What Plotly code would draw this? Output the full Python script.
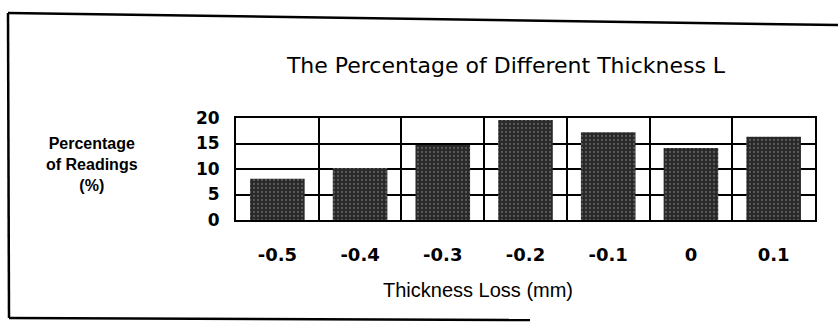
import plotly.graph_objects as go

# Thickness-loss bins (mm) and share of readings in each bin (%)
thickness_loss = ["-0.5", "-0.4", "-0.3", "-0.2", "-0.1", "0", "0.1"]
pct_readings = [8.1, 10.2, 14.7, 19.6, 17.2, 14.1, 16.3]
y_ticks = [0, 5, 10, 15, 20]

W, H = 838, 326
L, R, T, B = 236, 23, 118, 106
SANS = "Liberation Sans, Arial, sans-serif"
WIDE = "DejaVu Sans, Verdana, sans-serif"


def px_x(x):
    """Pixel column -> paper x."""
    return (x - L) / (W - L - R)


def px_y(y):
    """Pixel row -> paper y."""
    return (H - B - y) / (H - T - B)


fig = go.Figure(
    go.Bar(
        x=thickness_loss,
        y=pct_readings,
        marker=dict(
            color="#282828",
            line=dict(width=0),
            pattern=dict(shape=".", fgcolor="#8c8c8c", bgcolor="#282828",
                         size=4, solidity=0.25),
        ),
        hoverinfo="x+y",
    )
)

fig.update_layout(
    width=W,
    height=H,
    margin=dict(l=L, r=R, t=T, b=B),
    paper_bgcolor="white",
    plot_bgcolor="white",
    bargap=0.34,
    showlegend=False,
    font=dict(family=SANS, color="black", size=16),
    title=dict(
        text="The Percentage of Different Thickness L",
        x=506 / W, xanchor="center",
        y=1 - 65 / H, yanchor="middle",
        font=dict(family=WIDE, size=22, color="black"),
    ),
)

fig.update_xaxes(
    type="category",
    tickson="boundaries",
    showgrid=True, gridcolor="black", gridwidth=2,
    showline=True, linecolor="black", linewidth=2, mirror=True,
    ticks="", ticklabelstandoff=17,
    tickfont=dict(family=WIDE, size=18, color="black", weight="bold"),
)

fig.update_yaxes(
    range=[0, 20],
    tickvals=y_ticks,
    showgrid=True, gridcolor="black", gridwidth=2,
    showline=True, linecolor="black", linewidth=2, mirror=True,
    zeroline=False,
    ticks="", ticklabelstandoff=11,
    tickfont=dict(family=WIDE, size=17, color="black", weight="bold"),
)

# Axis captions
fig.add_annotation(
    text="Percentage<br>of Readings<br>(%)",
    xref="paper", yref="paper",
    x=px_x(92), xanchor="center",
    y=px_y(164), yanchor="middle",
    showarrow=False, align="center",
    font=dict(family=SANS, size=16, color="black", weight="bold"),
)
fig.add_annotation(
    text="Thickness Loss (mm)",
    xref="paper", yref="paper",
    x=px_x(478), xanchor="center",
    y=px_y(290), yanchor="middle",
    showarrow=False,
    font=dict(family=SANS, size=20, color="black"),
)

# Outer frame around the whole figure (top, left, bottom edges)
frame = [((8, 13), (838, 25)), ((8, 13), (9, 318)), ((9, 318), (530, 320))]
for (x0, y0), (x1, y1) in frame:
    fig.add_shape(type="line", xref="paper", yref="paper",
                  x0=px_x(x0), y0=px_y(y0), x1=px_x(x1), y1=px_y(y1),
                  line=dict(color="black", width=2.5), layer="above")

fig.write_html("out.html")
